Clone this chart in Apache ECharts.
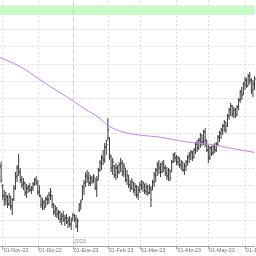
<!DOCTYPE html>
<html>
<head>
<meta charset="utf-8">
<script src="https://cdn.jsdelivr.net/npm/echarts@6/dist/echarts.min.js"></script>
<style>html,body{margin:0;padding:0;background:#fff}#c{width:256px;height:256px}</style>
</head>
<body>
<div id="c"></div>
<script>
// Trading days (weekdays) from 28-Oct-2022 to 09-Jun-2023
const firstDay = '2022-10-28';
const lastDay = '2023-06-09';
const categories = [];
for (let t = Date.parse(firstDay + 'T00:00:00Z'); t <= Date.parse(lastDay + 'T00:00:00Z'); t += 86400000) {
  const d = new Date(t), wd = d.getUTCDay();
  if (wd !== 0 && wd !== 6) categories.push(d.toISOString().slice(0, 10));
}

const openV = [
  14.58,14.06,12.96,12.39,12.16,12.33,11.93,12.33,11.81,12.21,
  12.85,13.48,14.00,13.77,13.31,13.08,13.14,12.62,12.79,12.91,
  12.73,12.85,13.08,13.31,13.14,12.62,12.39,11.87,11.98,11.75,
  12.21,12.16,12.44,12.44,11.87,11.46,11.64,11.35,11.46,11.06,
  11.23,11.00,11.12,10.89,11.00,10.77,11.12,11.29,11.06,10.66,
  11.58,11.87,12.16,12.85,13.14,13.54,13.42,13.14,13.42,13.25,
  13.42,12.85,13.31,13.88,14.29,14.58,14.46,15.21,15.61,15.73,
  14.63,14.00,14.12,13.60,14.00,13.77,14.17,14.29,13.77,14.00,
  13.31,13.54,13.02,12.85,13.19,12.73,12.91,12.44,12.73,13.02,
  12.91,13.08,12.67,12.91,12.56,12.79,12.73,13.19,13.54,13.88,
  14.17,14.00,13.77,14.23,14.00,13.71,13.54,13.88,13.77,14.35,
  14.75,14.58,14.35,14.58,14.17,14.35,13.88,14.12,14.35,14.63,
  14.75,14.92,14.58,15.04,15.38,15.15,15.61,15.90,15.50,16.08,
  15.61,15.04,14.58,15.15,14.86,15.21,15.04,15.38,15.79,16.02,
  16.19,16.42,16.65,16.42,17.00,17.34,17.57,17.11,17.34,17.05,
  17.52,17.92,18.38,18.21,18.84,19.07,18.73,19.30,19.07,18.50,
  18.84
];
const highV = [
  14.98,14.35,13.08,12.73,12.62,12.44,12.56,12.39,12.27,13.02,
  13.77,14.17,14.81,14.00,13.54,13.42,13.19,13.08,13.02,13.14,
  12.96,13.19,13.42,13.54,13.31,13.02,12.39,12.27,12.16,12.33,
  12.44,12.62,12.85,12.44,11.98,11.87,11.75,11.58,11.52,11.41,
  11.52,11.29,11.35,11.18,11.23,11.12,11.41,11.35,11.29,11.12,
  11.98,12.16,13.02,13.31,13.77,13.88,13.77,13.60,13.54,13.65,
  13.42,13.54,14.00,14.46,14.75,15.04,15.44,15.61,16.88,15.79,
  14.75,14.58,14.17,14.29,14.17,14.35,14.58,14.46,14.29,14.00,
  13.88,13.60,13.31,13.42,13.19,13.14,13.02,12.96,13.19,13.31,
  13.25,13.08,13.14,13.02,13.08,12.96,13.31,13.77,14.00,14.35,
  14.46,14.29,14.40,14.46,14.17,14.06,14.00,13.88,14.46,14.86,
  14.92,14.75,14.69,14.58,14.46,14.35,14.29,14.46,14.75,14.92,
  15.04,14.98,15.15,15.50,15.61,15.73,16.02,15.90,16.19,16.31,
  15.61,15.33,15.27,15.27,15.33,15.44,15.50,15.90,16.13,16.31,
  16.54,16.77,16.65,17.11,17.46,17.75,17.63,17.52,17.46,17.63,
  18.03,18.50,18.67,18.96,19.25,19.19,19.42,19.53,19.19,19.07,
  19.30
];
const lowV = [
  13.88,13.14,12.16,11.81,11.87,11.69,11.81,11.58,11.29,12.10,
  12.73,13.19,13.54,13.14,12.85,12.73,12.39,12.27,12.56,12.62,
  12.50,12.67,12.96,13.02,12.44,12.33,11.69,11.58,11.58,11.75,
  11.87,11.93,12.16,11.69,11.29,11.18,11.12,11.00,10.83,10.71,
  10.89,10.66,10.77,10.54,10.60,10.43,10.95,10.89,10.54,10.31,
  11.46,11.58,12.16,12.44,12.91,13.14,12.96,12.96,13.08,13.14,
  12.73,12.33,13.31,13.77,13.88,14.17,14.29,14.75,15.61,14.46,
  13.77,13.60,13.42,13.31,13.42,13.65,13.77,13.54,13.48,13.19,
  13.02,12.85,12.62,12.73,12.56,12.39,12.27,12.16,12.56,12.73,
  12.62,12.50,12.44,12.39,12.50,11.75,12.73,12.91,13.19,13.54,
  13.65,13.48,13.71,13.77,13.54,13.31,13.25,13.25,13.77,14.29,
  14.35,14.17,14.12,14.00,13.88,13.77,13.60,13.83,14.12,14.29,
  14.46,14.40,14.58,14.81,14.92,15.04,15.15,15.27,15.33,15.21,
  14.92,14.29,14.46,14.69,14.75,14.86,14.92,15.27,15.50,15.67,
  15.90,16.08,16.02,16.36,16.77,17.00,16.94,16.88,16.88,17.00,
  17.34,17.75,17.92,18.21,18.50,18.61,18.73,18.84,18.27,18.09,
  18.50
];
const closeV = [
  14.12,13.31,12.39,12.16,12.33,11.93,12.39,11.75,12.16,12.85,
  13.54,14.00,13.77,13.31,13.02,13.19,12.56,12.85,12.91,12.73,
  12.85,13.08,13.31,13.14,12.62,12.44,11.87,12.04,11.75,12.21,
  12.16,12.44,12.62,11.87,11.46,11.69,11.35,11.46,11.06,11.23,
  11.00,11.12,10.89,11.00,10.77,10.95,11.29,11.00,10.66,10.95,
  11.87,12.04,12.85,13.14,13.54,13.42,13.14,13.42,13.25,13.54,
  12.85,13.31,13.88,14.29,14.58,14.46,15.21,15.33,16.19,14.75,
  14.00,14.35,13.60,14.00,13.77,14.17,14.29,13.77,14.12,13.31,
  13.60,13.02,12.85,13.19,12.73,12.96,12.44,12.73,13.02,12.91,
  13.14,12.67,12.91,12.56,12.85,12.16,13.19,13.60,13.88,14.17,
  14.00,13.77,14.23,14.00,13.71,13.54,13.88,13.42,14.35,14.75,
  14.58,14.35,14.58,14.17,14.35,13.88,14.12,14.35,14.63,14.75,
  14.92,14.58,15.04,15.38,15.15,15.61,15.90,15.50,16.08,15.61,
  15.04,14.58,15.15,14.86,15.21,15.04,15.38,15.79,16.02,16.19,
  16.42,16.65,16.19,17.00,17.34,17.57,17.11,17.34,17.05,17.52,
  17.92,18.38,18.21,18.84,19.07,18.73,19.30,19.07,18.50,18.84,
  19.13
];

// Moving average readings
const maDates = ['2022-10-28','2022-11-16','2022-11-28','2022-12-13','2022-12-27','2023-01-11','2023-01-25','2023-01-31','2023-02-06','2023-02-15','2023-03-01','2023-03-20','2023-04-05','2023-04-17','2023-05-02','2023-05-19','2023-06-09'];
const maValues = [20.38,19.84,19.36,18.69,18.11,17.44,16.86,16.52,16.30,16.06,15.90,15.77,15.57,15.46,15.37,15.14,14.90];

// Month ticks (first session of each month) and their labels
const monthDays = ['2022-11-01','2022-12-01','2023-01-02','2023-02-01','2023-03-01','2023-04-03','2023-05-01','2023-06-01'];
const monthLabels = ['01-Nov-22','01-Dic-22','01-Ene-23','01-Feb-23','01-Mar-23','01-Abr-23','01-May-23','01-Jun-23'];
const yearDay = '2023-01-02';
const yearLabel = '2023';
const yearLabelLevel = 9.76;
const band = [22.82, 23.38];
const yMin = 9.475, yMax = 23.683;

const labelMap = {};
monthDays.forEach((d, i) => labelMap[d] = monthLabels[i]);
const isMonth = (i, v) => labelMap[v] !== undefined;

const ohlc = categories.map((c, k) => [k, openV[k], highV[k], lowV[k], closeV[k]]);
const maData = maDates.map((d, i) => [d, maValues[i]]);

const chart = echarts.init(document.getElementById('c'), null, {renderer: 'canvas'});
const barColor = '#3c3c3c';
chart.setOption({
  animation: false,
  backgroundColor: '#ffffff',
  grid: {left: -0.5, right: 1.45, top: 0, bottom: 9.5, containLabel: false, outerBoundsMode: 'none'},
  xAxis: {
    type: 'category',
    data: categories,
    boundaryGap: false,
    axisLine: {show: true, lineStyle: {color: '#a0a0a0', width: 1}},
    axisTick: {show: true, interval: isMonth, length: 3, lineStyle: {color: '#a0a0a0'}},
    axisLabel: {
      show: true, interval: isMonth, formatter: v => labelMap[v] || '',
      align: 'left', padding: [0, 0, 0, 1], margin: 1.5,
      fontSize: 5.3, fontFamily: 'Liberation Sans, Arial, sans-serif', color: '#707070',
      hideOverlap: false
    },
    splitLine: {show: true, interval: isMonth, lineStyle: {color: '#e0e0e0', type: [2, 2], width: 1}}
  },
  yAxis: {
    type: 'value',
    min: yMin, max: yMax,
    minInterval: 1, maxInterval: 1, splitNumber: 14,
    axisLine: {show: false}, axisTick: {show: false}, axisLabel: {show: false},
    splitLine: {show: true, showMinLine: false, showMaxLine: false, lineStyle: {color: '#dcdcdc', type: [2, 2], width: 1}}
  },
  series: [
    {
      type: 'custom',
      name: 'OHLC',
      data: ohlc,
      dimensions: ['i', 'open', 'high', 'low', 'close'],
      encode: {x: 0, y: [1, 2, 3, 4]},
      renderItem: function (params, api) {
        const i = api.value(0);
        const po = api.coord([i, api.value(1)]);
        const ph = api.coord([i, api.value(2)]);
        const pl = api.coord([i, api.value(3)]);
        const pc = api.coord([i, api.value(4)]);
        const x = ph[0];
        const st = {stroke: barColor, lineWidth: 1};
        return {type: 'group', children: [
          {type: 'line', shape: {x1: x, y1: ph[1], x2: x, y2: pl[1]}, style: st},
          {type: 'line', shape: {x1: x - 1.3, y1: po[1], x2: x, y2: po[1]}, style: st},
          {type: 'line', shape: {x1: x, y1: pc[1], x2: x + 1.3, y2: pc[1]}, style: st}
        ]};
      },
      z: 3
    },
    {
      type: 'line',
      name: 'MA',
      data: maData,
      smooth: 0.4,
      symbol: 'none',
      lineStyle: {color: '#b585f7', width: 1},
      z: 4,
      markArea: {
        silent: true,
        itemStyle: {color: 'rgba(195,251,195,0.9)'},
        data: [[{yAxis: band[0]}, {yAxis: band[1]}]]
      },
      markLine: {
        silent: true,
        symbol: 'none',
        label: {show: false},
        lineStyle: {color: '#cfcfcf', type: [5, 3], width: 1},
        data: [{xAxis: yearDay}]
      }
    },
    {
      type: 'scatter',
      name: 'year',
      data: [[yearDay, yearLabelLevel]],
      symbolSize: 0,
      label: {show: true, position: 'right', distance: 1, formatter: yearLabel, fontSize: 5.3, fontFamily: 'Liberation Sans, Arial, sans-serif', color: '#707070'},
      z: 5
    }
  ]
});
</script>
</body>
</html>
